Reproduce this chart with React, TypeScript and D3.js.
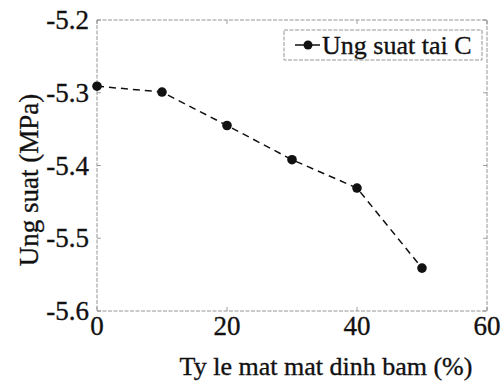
import React from "react";
import * as d3 from "d3";

// Bond loss ratio (%) and the stress at point C (MPa)
const lossRatio = [0, 10, 20, 30, 40, 50];
const stressC = [-5.291, -5.299, -5.345, -5.392, -5.431, -5.541];

const xTicks = [0, 20, 40, 60];
const yTicks = [-5.2, -5.3, -5.4, -5.5, -5.6];

const seriesName = "Ung suat tai C";
const xTitle = "Ty le mat mat dinh bam (%)";
const yTitle = "Ung suat (MPa)";

const W = 504;
const H = 386;
const plot = { left: 97, right: 487, top: 20, bottom: 311 };
const font = "'Liberation Serif', 'Times New Roman', serif";

// slightly heavier glyphs for the printed look
const ink = { fill: "#111", stroke: "#111", strokeWidth: 0.35 };

export default function App() {
  const x = d3.scaleLinear().domain([0, 60]).range([plot.left, plot.right]);
  const y = d3.scaleLinear().domain([-5.6, -5.2]).range([plot.bottom, plot.top]);

  const line = d3
    .line<number>()
    .x((_, i) => x(lossRatio[i]))
    .y((d) => y(d));

  const frame = "#888";

  return (
    <svg
      width={W}
      height={H}
      style={{ position: "absolute", left: 0, top: 0, background: "#fff" }}
      fontFamily={font}
    >
      <rect width={W} height={H} fill="#fff" />
      {/* frame */}
      <rect
        x={plot.left}
        y={plot.top}
        width={plot.right - plot.left}
        height={plot.bottom - plot.top}
        fill="none"
        stroke={frame}
        strokeWidth={0.9}
        strokeDasharray="4 1.5"
      />
      {/* inner ticks */}
      {xTicks.map((t) => (
        <g key={"xt" + t} stroke={frame} strokeWidth={0.8}>
          <line x1={x(t)} x2={x(t)} y1={plot.bottom} y2={plot.bottom - 4} />
          <line x1={x(t)} x2={x(t)} y1={plot.top} y2={plot.top + 4} />
        </g>
      ))}
      {yTicks.map((t) => (
        <g key={"yt" + t} stroke={frame} strokeWidth={0.8}>
          <line x1={plot.left} x2={plot.left + 4} y1={y(t)} y2={y(t)} />
          <line x1={plot.right} x2={plot.right - 4} y1={y(t)} y2={y(t)} />
        </g>
      ))}
      {/* tick labels */}
      {xTicks.map((t) => (
        <text
          key={"xl" + t}
          x={x(t)}
          y={plot.bottom + 24}
          textAnchor="middle"
          fontSize={27}
          {...ink}
        >
          {t}
        </text>
      ))}
      {yTicks.map((t) => (
        <text
          key={"yl" + t}
          x={plot.left - 8}
          y={y(t) + 9}
          textAnchor="end"
          fontSize={27}
          {...ink}
        >
          {d3.format(".1f")(t).replace("−", "-")}
        </text>
      ))}
      {/* axis titles */}
      <text x={326} y={375} textAnchor="middle" fontSize={26} {...ink}>
        {xTitle}
      </text>
      <text
        transform={`translate(38, 180) rotate(-90)`}
        textAnchor="middle"
        fontSize={27}
        {...ink}
      >
        {yTitle}
      </text>
      {/* series */}
      <path
        d={line(stressC) || ""}
        fill="none"
        stroke="#111"
        strokeWidth={1.5}
        strokeDasharray="7 5"
      />
      {stressC.map((v, i) => (
        <circle key={"p" + i} cx={x(lossRatio[i])} cy={y(v)} r={4.8} fill="#111" />
      ))}
      {/* legend */}
      <g>
        <rect
          x={284}
          y={30}
          width={198}
          height={30}
          fill="#fff"
          stroke={frame}
          strokeWidth={0.9}
          strokeDasharray="4 1.5"
        />
        <line x1={295} x2={320} y1={45} y2={45} stroke="#111" strokeWidth={1.5} />
        <circle cx={308} cy={45} r={4.5} fill="#111" />
        <text x={322} y={54} fontSize={26} {...ink}>
          {seriesName}
        </text>
      </g>
    </svg>
  );
}
